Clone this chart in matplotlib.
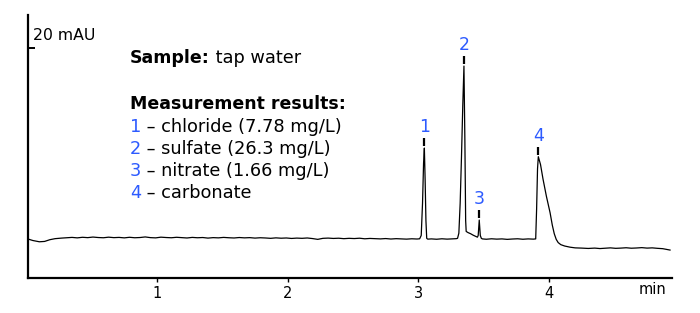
import matplotlib
matplotlib.use("Agg")
import matplotlib.pyplot as plt

plt.rcParams['font.family'] = ['DejaVu Sans']

# ---- data -------------------------------------------------------------
time_min = [
    0.013, 0.05, 0.10, 0.14, 0.18, 0.22, 0.27, 0.31, 0.35, 0.39, 0.43, 0.47,
    0.51, 0.55, 0.59, 0.63, 0.67, 0.71, 0.75, 0.79, 0.83, 0.87, 0.91, 0.95,
    0.99, 1.03, 1.07, 1.11, 1.15, 1.19, 1.23, 1.27, 1.31, 1.35, 1.39, 1.43,
    1.47, 1.51, 1.55, 1.59, 1.63, 1.67, 1.71, 1.75, 1.79, 1.83, 1.87, 1.91,
    1.95, 1.99, 2.03, 2.07, 2.11, 2.15, 2.19, 2.23, 2.27, 2.31, 2.35, 2.39,
    2.43, 2.47, 2.51, 2.55, 2.59, 2.63, 2.67, 2.71, 2.75, 2.79, 2.83, 2.87,
    2.91, 2.95, 2.99,
    3.010, 3.022, 3.032, 3.040, 3.046, 3.052, 3.058, 3.064, 3.072,
    3.10, 3.14, 3.18, 3.22, 3.26, 3.29,
    3.300, 3.310, 3.320, 3.330, 3.340, 3.349, 3.356, 3.362, 3.366, 3.38,
    3.40, 3.42, 3.44, 3.452,
    3.458, 3.466, 3.474, 3.482, 3.49,
    3.52, 3.56, 3.60, 3.64, 3.68, 3.72, 3.76, 3.80, 3.84, 3.88, 3.898,
    3.905, 3.912, 3.918, 3.935, 3.954, 3.98, 4.008, 4.025, 4.040, 4.055,
    4.070, 4.090, 4.12, 4.161, 4.20, 4.25, 4.30, 4.35, 4.39, 4.43, 4.47,
    4.51, 4.55, 4.59, 4.63, 4.67, 4.71, 4.75, 4.79, 4.83, 4.87, 4.90,
    4.926,
]
signal_mau = [
    3.39, 3.26, 3.15, 3.18, 3.33, 3.42, 3.47, 3.50, 3.53, 3.49, 3.54, 3.51,
    3.56, 3.52, 3.50, 3.55, 3.51, 3.53, 3.49, 3.54, 3.50, 3.52, 3.57, 3.51,
    3.49, 3.55, 3.52, 3.50, 3.54, 3.51, 3.48, 3.53, 3.50, 3.52, 3.47, 3.51,
    3.49, 3.53, 3.50, 3.48, 3.52, 3.49, 3.51, 3.47, 3.50, 3.48, 3.45, 3.49,
    3.46, 3.48, 3.44, 3.47, 3.45, 3.48, 3.43, 3.36, 3.45, 3.47, 3.44, 3.46,
    3.42, 3.45, 3.43, 3.46, 3.41, 3.44, 3.42, 3.40, 3.43, 3.39, 3.42, 3.40,
    3.38, 3.41, 3.39,
    3.41, 3.70, 6.50, 10.0, 11.30, 8.50, 5.00, 3.45, 3.38,
    3.40, 3.37, 3.41, 3.38, 3.40, 3.42,
    3.45, 3.90, 6.50, 10.5, 15.0, 18.43, 12.0, 5.00, 4.05, 3.95,
    3.85, 3.72, 3.62, 3.55,
    3.70, 5.04, 3.70, 3.45, 3.40,
    3.37, 3.41, 3.38, 3.40, 3.36, 3.39, 3.41, 3.37, 3.40, 3.38, 3.40,
    6.00, 9.50, 10.55, 9.86, 8.60, 7.10, 5.68, 4.60, 3.85, 3.36,
    3.08, 2.90, 2.78, 2.68, 2.62, 2.60, 2.57, 2.60, 2.56, 2.59, 2.62,
    2.58, 2.60, 2.63, 2.59, 2.61, 2.64, 2.60, 2.62, 2.58, 2.55, 2.49,
    2.43,
]

peak_ids = ['1', '2', '3', '4']
peak_times = [3.046, 3.349, 3.466, 3.918]
peak_heights = [11.30, 18.43, 5.04, 10.55]

compounds = ['chloride (7.78 mg/L)', 'sulfate (26.3 mg/L)',
             'nitrate (1.66 mg/L)', 'carbonate']
sample_name = 'tap water'

x_ticks = [1, 2, 3, 4]
y_tick = 20
x_range = (0.013, 4.941)
y_range = (0.0, 22.87)

# ---- style ------------------------------------------------------------
BLUE = '#2d5bff'
W, H = 700, 313
FS_BOLD = 12.5
FS_REG = 12.8

fig = plt.figure(figsize=(W / 100, H / 100), dpi=100)
ax = fig.add_axes([28 / W, 1 - 278 / H, 644 / W, 263 / H])

ax.plot(time_min, signal_mau, color='black', lw=0.9)

ax.set_xlim(*x_range)
ax.set_ylim(*y_range)

for s in ('top', 'right'):
    ax.spines[s].set_visible(False)
for s in ('left', 'bottom'):
    ax.spines[s].set_linewidth(1.6)

ax.set_xticks(x_ticks)
ax.set_xticklabels([str(v) for v in x_ticks], fontsize=10.5)
ax.tick_params(axis='x', direction='out', length=3, width=1, pad=3)
ax.set_yticks([y_tick])
ax.set_yticklabels([''])
ax.tick_params(axis='y', direction='in', length=5, width=1.4)

px = (y_range[1] - y_range[0]) / 263.0  # data units per pixel (vertical)

fig.text(33 / W, 1 - 35 / H, f'{y_tick} mAU', fontsize=11.3,
         ha='left', va='center')
fig.text(666 / W, 1 - 294 / H, 'min', fontsize=10.5, ha='right',
         va='baseline')

# peak labels with small markers
for pid, t, h in zip(peak_ids, peak_times, peak_heights):
    ax.vlines(t, h + 2 * px, h + 10 * px, color='black', lw=1.6)
    ax.text(t, h + 21 * px, pid, color=BLUE, fontsize=12.5,
            ha='center', va='center')

# annotation block
def fpos(x, y):
    return x / W, 1 - y / H

x0 = 130
t1 = fig.text(*fpos(x0, 63), 'Sample:', fontsize=FS_BOLD, fontweight='bold',
              va='baseline')
ax.annotate(' ' + sample_name, xy=(1, 0), xycoords=t1, fontsize=FS_REG,
            va='bottom', ha='left')
fig.text(*fpos(x0, 109), 'Measurement results:', fontsize=FS_BOLD,
         fontweight='bold', va='baseline')
for i, (pid, name) in enumerate(zip(peak_ids, compounds)):
    tn = fig.text(*fpos(x0, 132 + 22 * i), pid, fontsize=FS_REG, color=BLUE,
                  va='baseline')
    ax.annotate(' \u2013 ' + name, xy=(1, 0), xycoords=tn, fontsize=FS_REG,
                va='bottom', ha='left', color='black')

fig.savefig('out.png', dpi=100)
